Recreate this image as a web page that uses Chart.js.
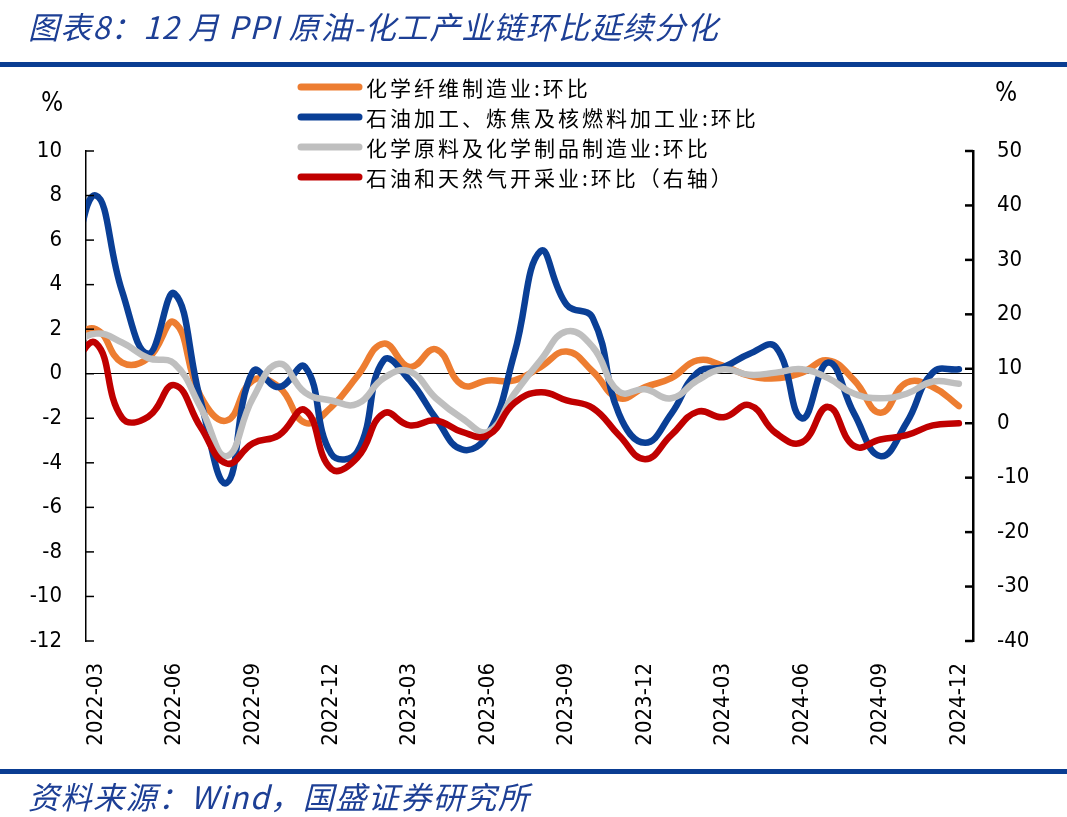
<!DOCTYPE html>
<html>
<head>
<meta charset="utf-8">
<script src="https://cdn.jsdelivr.net/npm/chart.js@4.4.1/dist/chart.umd.min.js"></script>
<style>
  html, body { margin: 0; padding: 0; background: #fff; }
  #wrap { position: relative; width: 1067px; height: 817px; overflow: hidden; }
  #chart { position: absolute; left: 0; top: 0; }
  .head, .foot {
    position: absolute; left: 28px; white-space: nowrap;
    font-family: "Noto Sans CJK SC", sans-serif; font-style: italic;
    font-size: 31px; line-height: 32px; color: #1d3f95;
  }
  .head { top: 10px; letter-spacing: 1.2px; }
  .foot { top: 780px; letter-spacing: 1.5px; }
  .bar { position: absolute; left: 0; width: 1067px; height: 5px; background: #0a3d92; }
</style>
</head>
<body>
<div id="wrap">
  <canvas id="chart" width="1067" height="817"></canvas>
  <div class="head">图表8：12 月 PPI 原油-化工产业链环比延续分化</div>
  <div class="bar" style="top:62px"></div>
  <div class="bar" style="top:769px"></div>
  <div class="foot">资料来源：Wind，国盛证券研究所</div>
</div>
<script>
// months (first one only feeds the clipped segment at the left edge)
const months = ['2022-02', '2022-03', '2022-04', '2022-05', '2022-06', '2022-07', '2022-08',
    '2022-09', '2022-10', '2022-11', '2022-12', '2023-01', '2023-02', '2023-03', '2023-04',
    '2023-05', '2023-06', '2023-07', '2023-08', '2023-09', '2023-10', '2023-11', '2023-12',
    '2024-01', '2024-02', '2024-03', '2024-04', '2024-05', '2024-06', '2024-07', '2024-08',
    '2024-09', '2024-10', '2024-11', '2024-12'];
const tickMonths = ['2022-03', '2022-06', '2022-09', '2022-12', '2023-03', '2023-06',
    '2023-09', '2023-12', '2024-03', '2024-06', '2024-09', '2024-12'];

// 化学纤维制造业:环比 (left axis, %)
const fiber = [1.5, 2.0, 0.5, 0.7, 2.3, -1.0, -2.1, -0.3, -0.6, -2.2, -1.5, -0.1, 1.35,
    0.3, 1.1, -0.5, -0.3, -0.3, 0.3, 1.0, 0.1, -1.1, -0.6, -0.2, 0.6, 0.35, -0.1, -0.2,
    0.05, 0.6, -0.3, -1.75, -0.4, -0.6, -1.45];
// 石油加工、炼焦及核燃料加工业:环比 (left axis, %)
const refining = [4.5, 8.0, 3.7, 0.9, 3.6, -1.2, -4.9, 0.1, -0.6, 0.3, -3.6, -3.5, 0.6,
    -0.3, -2.0, -3.4, -2.7, 0.9, 5.5, 3.1, 2.5, -1.8, -3.1, -1.8, 0.05, 0.3, 0.9, 1.2,
    -2.0, 0.5, -1.8, -3.7, -2.2, 0.05, 0.2];
// 化学原料及化学制品制造业:环比 (left axis, %)
const chemical = [1.2, 1.8, 1.4, 0.7, 0.45, -1.5, -3.7, -1.1, 0.45, -0.85, -1.2, -1.35,
    -0.2, 0.1, -1.1, -2.0, -2.6, -0.9, 0.6, 1.9, 1.2, -0.8, -0.7, -1.1, -0.3, 0.2, -0.05,
    0.05, 0.2, -0.2, -0.9, -1.1, -0.9, -0.35, -0.45];
// 石油和天然气开采业:环比 (right axis, %)
const crude = [10, 14.7, 1.0, 1.2, 7.0, -0.7, -7.4, -3.7, -2.2, 2.4, -8.4, -6.3, 1.8,
    -0.4, 0.5, -1.6, -2.2, 3.7, 5.7, 4.2, 2.8, -2.2, -6.6, -2.2, 2.1, 1.1, 3.3, -1.8,
    -3.5, 3.0, -4.2, -3.0, -2.2, -0.4, 0];

const toPoints = arr => arr.map((v, i) => ({ x: i, y: v }));
const numFont = { family: '"DejaVu Sans Condensed", "DejaVu Sans", sans-serif', size: 22 };

const seriesList = [
    { label: '化学纤维制造业:环比', data: fiber, color: '#ED7D31', axis: 'y', order: 4 },
    { label: '石油加工、炼焦及核燃料加工业:环比', data: refining, color: '#0A3F96', axis: 'y', order: 3 },
    { label: '化学原料及化学制品制造业:环比', data: chemical, color: '#BFBFBF', axis: 'y', order: 2 },
    { label: '石油和天然气开采业:环比（右轴）', data: crude, color: '#C00000', axis: 'y2', order: 1 }
];

// inner tick marks, unit labels and the floating legend
const decor = {
    id: 'decor',
    afterDraw(chart) {
        const ctx = chart.ctx;
        ctx.save();
        ctx.strokeStyle = '#000';
        [['y', 8, 1.5], ['y2', -8, 2.5]].forEach(([id, len, w]) => {
            const s = chart.scales[id];
            const x0 = id === 'y' ? s.right : s.left;
            ctx.lineWidth = w;
            s.ticks.forEach(t => {
                const py = s.getPixelForValue(t.value);
                ctx.beginPath();
                ctx.moveTo(x0, py);
                ctx.lineTo(x0 + len, py);
                ctx.stroke();
            });
        });

        ctx.fillStyle = '#000';
        ctx.font = '26px "DejaVu Sans Condensed", "DejaVu Sans", sans-serif';
        ctx.textAlign = 'center';
        ctx.textBaseline = 'middle';
        ctx.fillText('%', 52, 104);
        ctx.fillText('%', 1006, 94);

        ctx.textAlign = 'left';
        ctx.font = '21px "Noto Sans CJK SC", sans-serif';
        ctx.letterSpacing = '3px';
        ctx.lineCap = 'round';
        ctx.lineWidth = 7;
        seriesList.forEach((s, i) => {
            const y = 87 + 30 * i;
            ctx.strokeStyle = s.color;
            ctx.beginPath();
            ctx.moveTo(301, y);
            ctx.lineTo(359, y);
            ctx.stroke();
            ctx.fillText(s.label, 366, y + 1);
        });
        ctx.restore();
    }
};

new Chart(document.getElementById('chart'), {
    type: 'line',
    data: {
        datasets: seriesList.map(s => ({
            label: s.label,
            data: toPoints(s.data),
            yAxisID: s.axis,
            order: s.order,
            borderColor: s.color,
            backgroundColor: s.color,
            borderWidth: 6.5,
            borderCapStyle: 'round',
            borderJoinStyle: 'round',
            pointRadius: 0,
            tension: 0.45,
            fill: false
        }))
    },
    options: {
        responsive: false,
        animation: false,
        devicePixelRatio: 1,
        layout: { padding: { top: 151, left: 0, right: 0, bottom: 0 } },
        plugins: {
            legend: { display: false },
            tooltip: { enabled: false }
        },
        scales: {
            x: {
                type: 'linear',
                min: 0.62,
                max: 34.54,
                grid: { display: false },
                border: { display: false },
                afterBuildTicks: s => {
                    s.ticks = tickMonths.map(m => ({ value: months.indexOf(m) }));
                },
                afterFit: s => { s.height = 176; },
                ticks: {
                    autoSkip: false,
                    maxRotation: 90,
                    minRotation: 90,
                    padding: 14,
                    color: '#000',
                    font: numFont,
                    callback: v => months[v]
                }
            },
            y: {
                position: 'left',
                min: -12,
                max: 10,
                afterFit: s => { s.width = 86; },
                ticks: { stepSize: 2, padding: 24, color: '#000', font: numFont },
                grid: {
                    drawTicks: false,
                    lineWidth: 1,
                    color: c => (c.tick && c.tick.value === 0) ? '#000' : 'rgba(0,0,0,0)'
                },
                border: { display: true, color: '#000', width: 1.5 }
            },
            y2: {
                position: 'right',
                min: -40,
                max: 50,
                afterFit: s => { s.width = 94; },
                ticks: { stepSize: 10, padding: 24, color: '#000', font: numFont },
                grid: { display: false, drawTicks: false },
                border: { display: true, color: '#000', width: 2.5 }
            }
        }
    },
    plugins: [decor]
});
</script>
</body>
</html>
